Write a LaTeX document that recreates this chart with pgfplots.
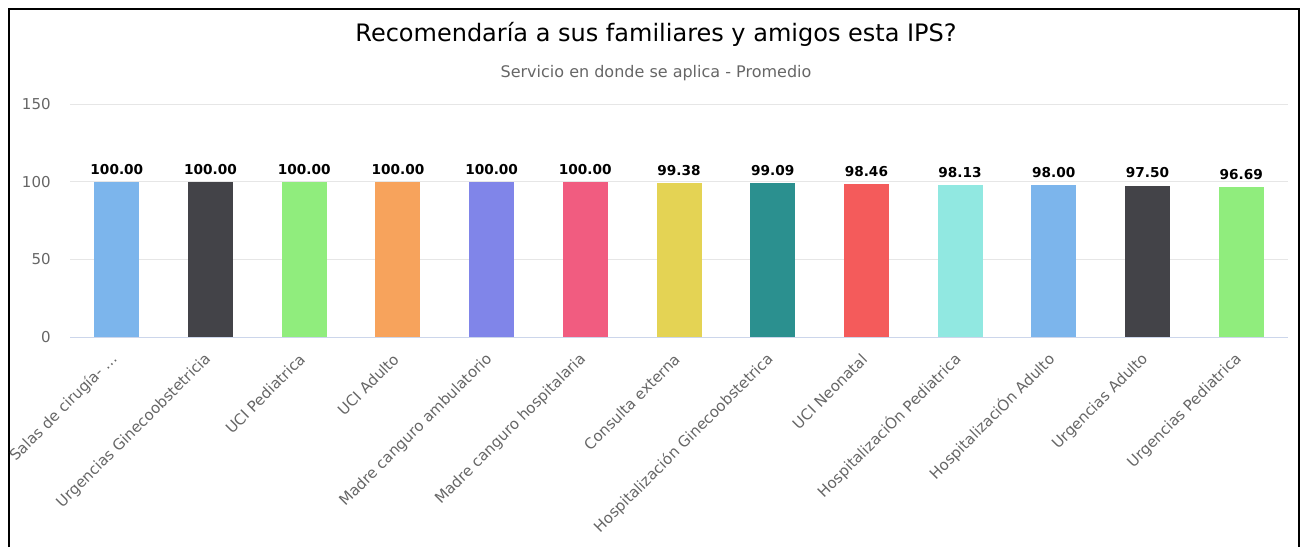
\documentclass[border=0pt]{standalone}
\usepackage{fontspec}
\setmainfont{DejaVu Sans}
\usepackage{pgfplots}
\pgfplotsset{compat=1.18}
\definecolor{c1}{HTML}{7CB5EC}
\definecolor{c2}{HTML}{434348}
\definecolor{c3}{HTML}{90ED7D}
\definecolor{c4}{HTML}{F7A35C}
\definecolor{c5}{HTML}{8085E9}
\definecolor{c6}{HTML}{F15C80}
\definecolor{c7}{HTML}{E4D354}
\definecolor{c8}{HTML}{2B908F}
\definecolor{c9}{HTML}{F45B5B}
\definecolor{c10}{HTML}{91E8E1}
\definecolor{gridc}{HTML}{E6E6E6}
\definecolor{axisc}{HTML}{CCD6EB}
\definecolor{labc}{HTML}{666666}
\definecolor{titc}{HTML}{333333}
\begin{document}
\begin{tikzpicture}[x=0.75pt,y=0.75pt]
\useasboundingbox (0,0) rectangle (1306,547);
\draw[line width=1.5pt] (9,0) -- (9,538) -- (1299,538) -- (1299,0);
\node[font=\fontsize{18}{21}\selectfont, text=black] at (656,513) {Recomendaría a sus familiares y amigos esta IPS?};
\node[font=\fontsize{12}{14}\selectfont, text=labc] at (656,474) {Servicio en donde se aplica - Promedio};
\begin{axis}[
  at={(52.5pt,157.5pt)}, anchor=south west,
  width=913.5pt, height=174.75pt, scale only axis,
  ymin=0, ymax=150, xmin=-0.5, xmax=12.5,
  ytick={0,50,100,150},
  /pgf/number format/assume math mode=true,
  xtick={0,1,2,3,4,5,6,7,8,9,10,11,12},
  xticklabels={{Salas de cirugía- …},Urgencias Ginecoobstetricia,UCI Pediatrica,UCI Adulto,Madre canguro ambulatorio,Madre canguro hospitalaria,Consulta externa,Hospitalización Ginecoobstetrica,UCI Neonatal,HospitalizaciÓn Pediatrica,HospitalizaciÓn Adulto,Urgencias Adulto,Urgencias Pediatrica},
  x tick label style={xshift=1pt, yshift=-8pt, rotate=45, anchor=east, font=\fontsize{11.25}{13}\selectfont, text=labc},
  y tick label style={font=\fontsize{11.25}{13}\selectfont, text=labc, xshift=-11pt},
  ymajorgrids, grid style={draw=gridc, line width=0.75pt},
  separate axis lines,
  axis x line*=bottom, x axis line style={-, draw=axisc, line width=0.75pt},
  axis y line*=left, y axis line style={draw=none},
  tick style={draw=none},
  ybar, bar width=33.75pt, bar shift=0pt,
  nodes near coords={\pgfmathprintnumber[fixed,fixed zerofill,precision=2,assume math mode=true]{\pgfplotspointmeta}},
  every node near coord/.append style={font=\bfseries\fontsize{10.25}{12}\selectfont, text=black, yshift=2pt},
  clip=false,
]
\addplot[fill=c1, draw=none] coordinates {(0,100.00)};
\addplot[fill=c2, draw=none] coordinates {(1,100.00)};
\addplot[fill=c3, draw=none] coordinates {(2,100.00)};
\addplot[fill=c4, draw=none] coordinates {(3,100.00)};
\addplot[fill=c5, draw=none] coordinates {(4,100.00)};
\addplot[fill=c6, draw=none] coordinates {(5,100.00)};
\addplot[fill=c7, draw=none] coordinates {(6,99.38)};
\addplot[fill=c8, draw=none] coordinates {(7,99.09)};
\addplot[fill=c9, draw=none] coordinates {(8,98.46)};
\addplot[fill=c10, draw=none] coordinates {(9,98.13)};
\addplot[fill=c1, draw=none] coordinates {(10,98.00)};
\addplot[fill=c2, draw=none] coordinates {(11,97.50)};
\addplot[fill=c3, draw=none] coordinates {(12,96.69)};
\end{axis}
\end{tikzpicture}
\end{document}
